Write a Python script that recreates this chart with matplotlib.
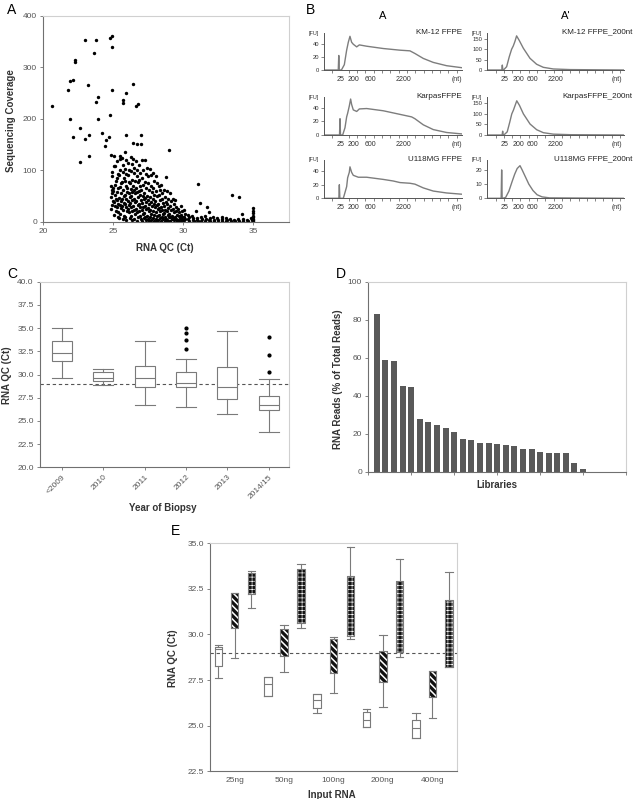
import numpy as np
import matplotlib.pyplot as plt

plt.rcParams['font.family'] = ['Liberation Sans', 'DejaVu Sans']

# ---------------- data ----------------
# A: RNA QC (Ct) vs sequencing coverage, read point by point
a_high = [(20.6, 225), (21.8, 256), (21.9, 274), (22.1, 276), (22.25, 314), (22.3, 311),
          (21.9, 200), (22.1, 165), (22.6, 182), (22.6, 117), (23.0, 353), (23.0, 161),
          (23.2, 266), (23.3, 169), (23.3, 128), (23.6, 329), (23.8, 353), (23.8, 233),
          (23.9, 243), (23.9, 200), (24.2, 173), (24.4, 148), (24.5, 159), (24.7, 165),
          (24.8, 358), (24.9, 361), (24.9, 339), (24.9, 256), (24.8, 208), (25.9, 251),
          (25.7, 237), (25.7, 230), (25.9, 169), (26.4, 268), (26.6, 225), (26.8, 229),
          (26.4, 154), (26.7, 152), (27.0, 168), (27.0, 151), (29.0, 140), (31.1, 74),
          (31.2, 37), (33.5, 52), (34.0, 49), (31.7, 29)]
a_cluster = [
    (24.85, 130), (24.95, 96), (24.9, 88), (24.82, 70), (24.97, 66), (24.88, 62), (24.93, 55),
    (24.86, 48), (24.99, 41), (24.9, 33), (24.84, 25),
    (25.08, 127), (25.15, 108), (25.04, 108), (25.18, 80), (25.1, 72), (25.02, 60), (25.14, 52),
    (25.2, 45), (25.06, 38), (25.12, 30), (25.17, 20), (25.09, 13),
    (25.25, 118), (25.33, 92), (25.28, 85), (25.36, 65), (25.3, 58), (25.24, 42), (25.38, 35),
    (25.27, 28), (25.35, 18), (25.31, 10),
    (25.46, 128), (25.52, 122), (25.5, 100), (25.43, 90), (25.56, 75), (25.48, 68), (25.58, 55),
    (25.44, 47), (25.53, 40), (25.47, 33), (25.55, 26), (25.5, 15), (25.45, 8),
    (25.65, 123), (25.72, 110), (25.68, 96), (25.75, 85), (25.62, 78), (25.7, 62), (25.78, 50),
    (25.66, 44), (25.74, 37), (25.63, 30), (25.71, 22), (25.77, 12), (25.69, 5),
    (25.84, 135), (25.92, 120), (25.88, 102), (25.95, 92), (25.82, 80), (25.9, 70), (25.98, 58),
    (25.86, 52), (25.94, 45), (25.83, 35), (25.91, 28), (25.97, 20), (25.87, 10), (25.93, 3),
    (26.05, 115), (26.12, 100), (26.08, 90), (26.15, 78), (26.02, 66), (26.1, 55), (26.18, 48),
    (26.06, 40), (26.14, 32), (26.03, 25), (26.11, 18), (26.17, 8),
    (26.25, 125), (26.32, 112), (26.28, 98), (26.35, 82), (26.22, 75), (26.3, 64), (26.38, 58),
    (26.26, 50), (26.34, 42), (26.23, 36), (26.31, 28), (26.37, 20), (26.27, 12), (26.33, 4),
    (26.45, 122), (26.52, 105), (26.48, 95), (26.55, 80), (26.42, 70), (26.5, 62), (26.58, 55),
    (26.46, 45), (26.54, 38), (26.43, 30), (26.51, 22), (26.57, 15), (26.47, 6),
    (26.65, 118), (26.72, 100), (26.68, 88), (26.75, 78), (26.62, 65), (26.7, 58), (26.78, 48),
    (26.66, 40), (26.74, 33), (26.63, 25), (26.71, 18), (26.77, 10), (26.69, 2),
    (26.85, 110), (26.92, 95), (26.88, 82), (26.95, 70), (26.82, 60), (26.9, 52), (26.98, 42),
    (26.86, 35), (26.94, 28), (26.83, 20), (26.91, 12), (26.97, 5),
    (27.05, 120), (27.12, 100), (27.08, 85), (27.15, 72), (27.02, 62), (27.1, 50), (27.18, 44),
    (27.06, 36), (27.14, 28), (27.03, 22), (27.11, 15), (27.17, 8), (27.07, 2),
    (27.25, 120), (27.32, 92), (27.28, 78), (27.35, 66), (27.22, 55), (27.3, 46), (27.38, 38),
    (27.26, 30), (27.34, 24), (27.23, 16), (27.31, 10), (27.37, 4),
    (27.45, 105), (27.52, 88), (27.48, 75), (27.55, 62), (27.42, 50), (27.5, 42), (27.58, 34),
    (27.46, 26), (27.54, 20), (27.43, 12), (27.51, 6), (27.57, 1),
    (27.65, 103), (27.72, 90), (27.68, 70), (27.75, 58), (27.62, 48), (27.7, 38), (27.78, 30),
    (27.66, 22), (27.74, 15), (27.63, 9), (27.71, 3),
    (27.85, 95), (27.92, 80), (27.88, 66), (27.95, 52), (27.82, 44), (27.9, 35), (27.98, 28),
    (27.86, 20), (27.94, 14), (27.83, 7), (27.91, 2),
    (28.05, 88), (28.12, 75), (28.08, 60), (28.15, 50), (28.02, 40), (28.1, 32), (28.18, 25),
    (28.06, 18), (28.14, 12), (28.03, 6), (28.11, 1),
    (28.25, 70), (28.32, 62), (28.28, 52), (28.35, 42), (28.22, 34), (28.3, 26), (28.38, 20),
    (28.26, 14), (28.34, 8), (28.23, 3),
    (28.45, 72), (28.52, 55), (28.48, 45), (28.55, 36), (28.42, 28), (28.5, 22), (28.58, 15),
    (28.46, 10), (28.54, 5), (28.43, 1),
    (28.75, 86), (28.62, 62), (28.7, 48), (28.78, 38), (28.66, 30), (28.74, 22), (28.63, 16),
    (28.71, 10), (28.77, 6), (28.69, 2),
    (28.85, 60), (28.92, 45), (28.88, 35), (28.95, 27), (28.82, 20), (28.9, 14), (28.98, 9),
    (28.86, 4), (28.94, 1),
    (29.05, 55), (29.12, 40), (29.08, 30), (29.15, 22), (29.02, 15), (29.1, 10), (29.18, 6), (29.06, 2),
    (29.25, 45), (29.32, 34), (29.28, 25), (29.35, 18), (29.22, 12), (29.3, 7), (29.38, 3),
    (29.45, 42), (29.52, 28), (29.48, 20), (29.55, 14), (29.42, 9), (29.5, 5), (29.58, 1),
    (29.65, 25), (29.72, 18), (29.68, 12), (29.75, 8), (29.62, 4), (29.7, 1),
    (29.85, 30), (29.92, 20), (29.88, 14), (29.95, 9), (29.82, 5), (29.9, 2),
    (30.05, 22), (30.12, 15), (30.08, 10), (30.15, 6), (30.02, 3), (30.1, 0),
    (30.35, 14), (30.42, 9), (30.38, 5), (30.45, 2),
    (30.65, 12), (30.72, 7), (30.68, 3), (30.75, 1),
    (30.95, 20), (31.02, 8), (30.98, 4), (31.05, 1),
    (31.25, 10), (31.32, 5), (31.28, 2),
    (31.55, 12), (31.62, 6), (31.58, 2),
    (31.85, 18), (31.92, 8), (31.88, 3), (31.95, 1),
    (32.15, 9), (32.22, 4), (32.18, 1),
    (32.45, 8), (32.52, 3), (32.48, 0),
    (32.75, 10), (32.82, 5), (32.78, 2),
    (33.05, 8), (33.12, 3), (33.08, 1),
    (33.35, 6), (33.42, 2), (33.65, 4), (33.72, 1), (33.95, 5), (34.02, 2),
    (34.25, 15), (34.32, 6), (34.28, 2), (34.55, 4), (34.62, 1), (34.85, 8), (34.92, 3),
    (35.0, 27), (35.0, 20), (35.0, 16), (35.0, 12), (35.0, 9), (35.0, 6), (35.0, 3), (35.0, 1)]

# B: Bioanalyzer traces (x in time units, y in FU)
km12_x = [0, 1.72, 1.78, 1.84, 2.1, 2.45, 2.73, 2.93, 3.13, 3.33, 3.53, 3.94, 4.26, 5.14, 7.15, 9.16, 10.36, 10.96, 11.97, 13.17, 14.78, 16.6]
km12_y = [0, 0, 22, 0, 0, 8, 30, 42, 51, 42, 39, 35, 38, 36, 32.5, 30, 29, 25, 17.5, 11.5, 6.5, 3.5]
karpas_x = [0, 1.87, 1.93, 1.99, 2.25, 2.53, 2.73, 2.85, 3.05, 3.21, 3.33, 3.53, 3.94, 4.26, 5.14, 7.15, 9.16, 10.56, 10.96, 11.97, 13.17, 14.78, 16.6]
karpas_y = [0, 0, 24, 0, 0, 10.7, 26.7, 32, 42.7, 53, 45, 37, 34.7, 38.4, 39, 35.7, 30.4, 26.7, 24, 15, 8, 3.7, 1.6]
u118_x = [0, 1.79, 1.85, 1.91, 2.33, 2.73, 2.85, 3.05, 3.13, 3.33, 3.53, 4.14, 5.14, 7.15, 8.35, 9.16, 10.36, 10.96, 11.97, 13.17, 14.78, 16.6]
u118_y = [0, 0, 19.8, 0, 0, 17, 30, 38, 46, 38, 33.6, 30.8, 30.8, 27.6, 25.3, 23, 22, 20.7, 15.2, 10.6, 7.8, 6]
km12s_x = [0, 1.75, 1.81, 1.87, 1.95, 2.33, 2.65, 2.93, 3.13, 3.33, 3.53, 3.86, 4.34, 5.14, 5.94, 6.75, 7.95, 9.96, 16.47]
km12s_y = [0, 0, 24, 0, 0, 16, 65, 101, 117, 139, 166, 143, 106, 57, 28, 13, 5, 2, 0]
karpass_x = [0, 1.79, 1.85, 1.91, 2.0, 2.4, 2.7, 2.95, 3.15, 3.35, 3.55, 3.88, 4.35, 5.15, 5.95, 6.75, 7.95, 9.96, 16.47]
karpass_y = [0, 0, 18, 0, 0, 15, 60, 100, 118, 140, 162, 140, 100, 52, 25, 11, 4, 1.5, 0]
u118s_x = [0, 1.67, 1.73, 1.79, 2.2, 2.6, 3.0, 3.3, 3.6, 3.94, 4.2, 4.6, 5.0, 5.5, 6.0, 6.6, 7.5, 16.47]
u118s_y = [0, 0, 20, 0, 0.5, 5, 12, 17, 21, 23, 20, 15, 10, 5.5, 2.5, 1, 0.3, 0]
b_names_left = ['KM-12 FFPE', 'KarpasFFPE', 'U118MG FFPE']
b_names_right = ['KM-12 FFPE_200nt', 'KarpasFFPE_200nt', 'U118MG FFPE_200nt']
b_size_labels = ['25', '200', '600', '2200', '(nt)']
b_label_pos_left = [2.0, 3.53, 5.54, 9.56, 15.98]
b_label_pos_right = [2.05, 3.8, 5.42, 8.27, 15.58]

# C: RNA QC by year of biopsy
c_years = ['<2009', '2010', '2011', '2012', '2013', '2014/15']
c_whislo = [29.6, 28.85, 26.7, 26.5, 25.7, 23.8]
c_q1 = [31.5, 29.3, 28.7, 28.65, 27.4, 26.15]
c_med = [32.3, 29.6, 29.6, 29.1, 28.65, 26.75]
c_q3 = [33.6, 30.25, 30.9, 30.3, 30.8, 27.65]
c_whishi = [35.0, 30.55, 33.6, 31.7, 34.7, 29.55]
c_fliers = [[], [], [], [32.8, 33.75, 34.5, 35.0], [], [30.25, 32.1, 34.0]]

# D: RNA reads per library
d_reads = [83, 59, 58, 45, 44.4, 27.7, 26.3, 24.6, 23.0, 20.9, 17.0, 16.8, 15.3, 14.9,
           14.7, 14.0, 13.3, 12.1, 12.1, 10.2, 9.8, 9.8, 9.8, 4.6, 1.2]

# E: RNA QC by input RNA, three groups
e_inputs = ['25ng', '50ng', '100ng', '200ng', '400ng']
e1_whislo = [27.63, 26.64, 25.71, 24.94, 24.34]
e1_q1 = [28.27, 26.64, 25.98, 24.94, 24.34]
e1_med = [29.2, 27.26, 26.40, 25.31, 24.89]
e1_q3 = [29.29, 27.66, 26.73, 25.76, 25.31]
e1_whishi = [29.41, 27.66, 26.75, 25.93, 25.71]
e2_whislo = [28.69, 27.92, 26.77, 26.00, 25.40]
e2_q1 = [30.33, 28.83, 27.87, 27.37, 26.55]
e2_med = [31.3, 29.5, 28.8, 28.2, 27.3]
e2_q3 = [32.24, 30.27, 29.73, 29.10, 28.01]
e2_whishi = [32.24, 30.53, 29.87, 29.94, 28.01]
e3_whislo = [31.46, 30.33, 29.74, 28.74, 28.20]
e3_q1 = [32.19, 30.64, 29.93, 29.01, 28.21]
e3_med = [32.8, 32.1, 31.6, 31.0, 30.0]
e3_q3 = [33.34, 33.56, 33.21, 32.92, 31.88]
e3_whishi = [33.48, 33.83, 34.79, 34.12, 33.39]

# ---------------- figure ----------------
W, H = 640, 799
fig = plt.figure(figsize=(6.4, 7.99), dpi=100)

GREY = '#7a7a7a'
LABEL_KW = dict(fontsize=7, fontweight='bold', color='#333333')


def px_axes(left, top, right, bottom):
    return fig.add_axes([left / W, 1 - bottom / H, (right - left) / W, (bottom - top) / H])


def fig_text(x, y, s, **kw):
    fig.text(x / W, 1 - y / H, s, **kw)


def frame(ax, size=6):
    for s in ['top', 'right']:
        ax.spines[s].set_color('#d0d0d0')
    for s in ['left', 'bottom']:
        ax.spines[s].set_color('#707070')
    for s in ax.spines.values():
        s.set_linewidth(0.8)
    ax.tick_params(colors='#707070', labelcolor='#555555', labelsize=size,
                   length=2.5, width=0.6, pad=2)


def make_stats(lo, q1, med, q3, hi, fl=None):
    out = []
    for i in range(len(lo)):
        out.append(dict(whislo=lo[i], q1=q1[i], med=med[i], q3=q3[i], whishi=hi[i],
                        fliers=fl[i] if fl else []))
    return out


# ---- A ----
axA = px_axes(43.3, 16, 289.3, 221.7)
pts = np.array(a_high + a_cluster)
axA.scatter(pts[:, 0], pts[:, 1], s=6, c='k', linewidths=0)
axA.set_xlim(20, 37.6)
axA.set_ylim(0, 400)
axA.set_xticks([20, 25, 30, 35])
axA.set_yticks([0, 100, 200, 300, 400])
frame(axA, 6)
axA.set_xlabel('RNA QC (Ct)', **LABEL_KW)
axA.set_ylabel('Sequencing Coverage', **LABEL_KW)
axA.xaxis.set_label_coords(0.495, -0.105)
axA.yaxis.set_label_coords(-0.11, 0.49)

# ---- B ----
b_traces = [((km12_x, km12_y), (km12s_x, km12s_y)),
            ((karpas_x, karpas_y), (karpass_x, karpass_y)),
            ((u118_x, u118_y), (u118s_x, u118s_y))]
rows = [(33, 70), (97, 135), (160, 198.3)]
for r, (top, bot) in enumerate(rows):
    for c, (l, rgt) in enumerate([(324, 461.7), (487.3, 624)]):
        ax = px_axes(l, top, rgt, bot)
        tx, ty = b_traces[r][c]
        ax.plot(tx, ty, color='#7d7d7d', lw=1.0)
        for s in ['top', 'right']:
            ax.spines[s].set_visible(False)
        for s in ['left', 'bottom']:
            ax.spines[s].set_color('#555555')
            ax.spines[s].set_linewidth(0.7)
        if c == 0:
            ax.set_xlim(0, 16.6)
            ax.set_ylim(0, 56)
            ax.set_yticks([0, 20, 40])
            ax.set_xticks(b_label_pos_left, b_size_labels)
            name = b_names_left[r]
            nx = 1.0
        else:
            ax.set_xlim(0, 16.47)
            if r < 2:
                ax.set_ylim(0, 180)
                ax.set_yticks([0, 50, 100, 150])
            else:
                ax.set_ylim(0, 27)
                ax.set_yticks([0, 10, 20])
            ax.set_xticks(b_label_pos_right, b_size_labels)
            name = b_names_right[r]
            nx = 1.06
        ax.set_xticks(np.arange(1, 17), minor=True)
        ax.tick_params(axis='x', which='major', length=0, labelsize=5, pad=4, labelcolor='#333333')
        ax.tick_params(axis='x', which='minor', length=2, width=0.5, color='#555555')
        ax.tick_params(axis='y', length=2, width=0.5, labelsize=4.2, pad=1.5,
                       color='#555555', labelcolor='#333333')
        ax.text(-0.04, 1.0, '[FU]', transform=ax.transAxes, fontsize=4,
                ha='right', va='center', color='#333333')
        ax.text(nx, 1.02, name, transform=ax.transAxes, fontsize=5.8,
                ha='right', va='center', color='#222222')

fig_text(383, 16, 'A', fontsize=8, ha='center', va='center')
fig_text(566, 16, "A'", fontsize=8, ha='center', va='center')

# ---- C ----
axC = px_axes(40, 281.7, 289.3, 467.3)
axC.bxp(make_stats(c_whislo, c_q1, c_med, c_q3, c_whishi, c_fliers),
        positions=range(1, 7), widths=0.48, capwidths=0.48, patch_artist=True,
        boxprops=dict(facecolor='white', edgecolor=GREY, linewidth=0.8),
        whiskerprops=dict(color=GREY, linewidth=0.8),
        capprops=dict(color=GREY, linewidth=0.8),
        medianprops=dict(color=GREY, linewidth=0.8),
        flierprops=dict(marker='o', markersize=2, markerfacecolor='k', markeredgecolor='k'))
axC.axhline(29, color='#555555', lw=0.8, dashes=(3, 2.5), zorder=0)
axC.set_xlim(0.47, 6.5)
axC.set_ylim(20, 40)
axC.set_yticks(np.arange(20, 40.1, 2.5))
axC.yaxis.set_major_formatter('{x:.1f}')
frame(axC)
axC.set_xticks(range(1, 7))
axC.set_xticklabels(c_years, rotation=45, ha='right', va='top', rotation_mode='anchor')
axC.set_xlabel('Year of Biopsy', **LABEL_KW)
axC.set_ylabel('RNA QC (Ct)', **LABEL_KW)
axC.xaxis.set_label_coords(0.493, -0.19)
axC.yaxis.set_label_coords(-0.112, 0.497)

# ---- D ----
axD = px_axes(368.3, 281.7, 626, 471.7)
axD.bar(np.arange(1, len(d_reads) + 1), d_reads, width=0.7, color='#595959')
axD.set_xlim(0, 30)
axD.set_ylim(0, 100)
axD.set_xticks(range(0, 31, 5), [''] * 7)
axD.set_yticks(range(0, 101, 20))
frame(axD)
axD.set_xlabel('Libraries', **LABEL_KW)
axD.set_ylabel('RNA Reads (% of Total Reads)', **LABEL_KW)
axD.xaxis.set_label_coords(0.498, -0.045)
axD.yaxis.set_label_coords(-0.1, 0.488)

# ---- E ----
axE = px_axes(210, 543, 457, 771.4)
base = np.arange(len(e_inputs))
line_kw = dict(color=GREY, linewidth=0.8)
# plain white group
axE.bxp(make_stats(e1_whislo, e1_q1, e1_med, e1_q3, e1_whishi), positions=base - 0.33,
        widths=0.15, capwidths=0.15, showfliers=False,
        boxprops=line_kw, whiskerprops=line_kw, capprops=line_kw, medianprops=line_kw)
hidden = dict(visible=False)
groups = [(make_stats(e2_whislo, e2_q1, e2_med, e2_q3, e2_whishi), 0.0, '\\' * 5, 1.1),
          (make_stats(e3_whislo, e3_q1, e3_med, e3_q3, e3_whishi), 0.34, '+' * 4, 0.45)]
for stats, off, hatch, hlw in groups:
    with plt.rc_context({'hatch.linewidth': hlw}):
        axE.bxp(stats, positions=base + off, widths=0.15, capwidths=0.15,
                showfliers=False, patch_artist=True,
                boxprops=dict(facecolor='#111111', edgecolor='white', hatch=hatch, linewidth=0),
                whiskerprops=hidden, capprops=hidden, medianprops=hidden)
    axE.bxp(stats, positions=base + off, widths=0.15, capwidths=0.15, showfliers=False,
            boxprops=line_kw, whiskerprops=line_kw, capprops=line_kw, medianprops=hidden)
axE.axhline(29, color='#555555', lw=0.8, dashes=(3, 2.5), zorder=0)
axE.set_xlim(-0.5, 4.5)
axE.set_ylim(22.5, 35)
axE.set_yticks(np.arange(22.5, 35.1, 2.5))
axE.yaxis.set_major_formatter('{x:.1f}')
frame(axE)
axE.set_xticks(base, e_inputs)
axE.tick_params(axis='x', length=0, pad=4)
axE.set_xlabel('Input RNA', **LABEL_KW)
axE.set_ylabel('RNA QC (Ct)', **LABEL_KW)
axE.xaxis.set_label_coords(0.493, -0.08)
axE.yaxis.set_label_coords(-0.128, 0.497)

# panel letters
for letter, x, y in [('A', 7, 10), ('B', 306, 10), ('C', 7, 274), ('D', 336, 274), ('E', 171, 531)]:
    fig_text(x, y, letter, fontsize=10, ha='left', va='center')

fig.savefig('out.png', dpi=100)
